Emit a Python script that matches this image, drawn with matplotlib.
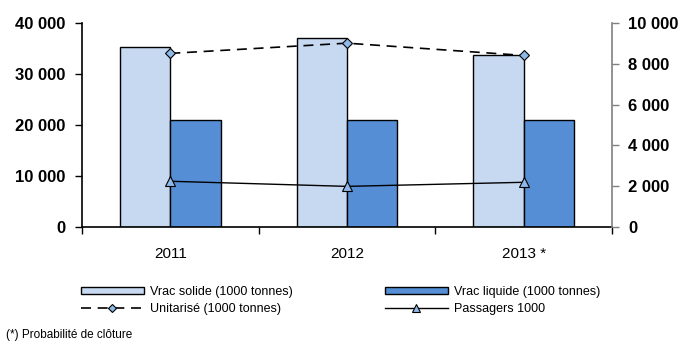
import matplotlib
matplotlib.use("Agg")
import matplotlib.pyplot as plt
import numpy as np

plt.rcParams['font.family'] = ['Liberation Sans', 'DejaVu Sans']

years = ["2011", "2012", "2013 *"]
vrac_solide = [35300, 37000, 33700]
vrac_liquide = [21000, 21000, 21000]
unitarise = [8500, 9000, 8400]
passagers = [2250, 2000, 2200]

left_ticks = [0, 10000, 20000, 30000, 40000]
right_ticks = [0, 2000, 4000, 6000, 8000, 10000]

def fmt(v):
    return f"{v:,}".replace(",", " ")

W, H = 681, 342
fig = plt.figure(figsize=(W / 100, H / 100), dpi=100)
ax = fig.add_axes([82 / W, 1 - 227.3 / H, (612 - 82) / W, (227.3 - 22.7) / H])
ax2 = ax.twinx()

x = np.arange(len(years))
w = 0.284
light = "#C6D9F1"
dark = "#558ED5"
marker_fill = "#8DB8E8"

b1 = ax.bar(x - w / 2, vrac_solide, width=w, color=light, edgecolor="black", linewidth=1.0,
            label="Vrac solide (1000 tonnes)", zorder=2)
b2 = ax.bar(x + w / 2, vrac_liquide, width=w, color=dark, edgecolor="black", linewidth=1.0,
            label="Vrac liquide (1000 tonnes)", zorder=2)

l1, = ax2.plot(x, unitarise, color="black", linestyle=(0, (6, 4)), linewidth=1.2,
               marker="D", markersize=5.5, markerfacecolor=marker_fill, markeredgecolor="black",
               markeredgewidth=0.8, label="Unitarisé (1000 tonnes)")
l2, = ax2.plot(x, passagers, color="black", linestyle="-", linewidth=1.0,
               marker="^", markersize=7.5, markerfacecolor=marker_fill, markeredgecolor="black",
               markeredgewidth=0.8, label="Passagers 1000")

ax.set_xlim(-0.5, 2.5)
ax.set_ylim(0, 40000)
ax2.set_ylim(0, 10000)

ax.set_yticks(left_ticks)
ax.set_yticklabels([fmt(v) for v in left_ticks], fontsize=12, fontweight="bold")
ax2.set_yticks(right_ticks)
ax2.set_yticklabels([fmt(v) for v in right_ticks], fontsize=12, fontweight="bold")

ax.set_xticks(x)
ax.set_xticklabels(years, fontsize=11)
ax.tick_params(axis="x", length=0, pad=14)
ax.set_xticks([-0.5, 0.5, 1.5, 2.5], minor=True)
ax.tick_params(axis="x", which="minor", length=5, width=1, direction="out")
ax.tick_params(axis="y", length=5, width=1, direction="out", pad=7)
ax2.tick_params(axis="y", length=5, width=1, direction="out", colors="#808080",
                labelcolor="black", pad=6.5)

ax.spines["top"].set_visible(False)
ax2.spines["top"].set_visible(False)
ax2.spines["left"].set_visible(False)
ax2.spines["bottom"].set_visible(False)
ax.spines["right"].set_visible(False)
ax2.spines["right"].set_color("#808080")
ax2.spines["right"].set_linewidth(1.2)
ax.spines["left"].set_linewidth(1.2)
ax.spines["bottom"].set_linewidth(1.2)

handles = [b1, l1, b2, l2]
labels = [h.get_label() for h in handles]
leg = fig.legend(handles, labels, ncol=2, loc="upper left", bbox_to_anchor=(81 / W, 1 - 286 / H),
                 frameon=False, fontsize=9, handlelength=5.0, handleheight=0.4,
                 handletextpad=0.55, columnspacing=7.35, labelspacing=0.4,
                 borderaxespad=0, borderpad=0, markerscale=0.7)

fig.text(6 / W, 1 - 335 / H, "(*) Probabilité de clôture", fontsize=8.5, va="center", ha="left")

fig.savefig("out.png", dpi=100)
